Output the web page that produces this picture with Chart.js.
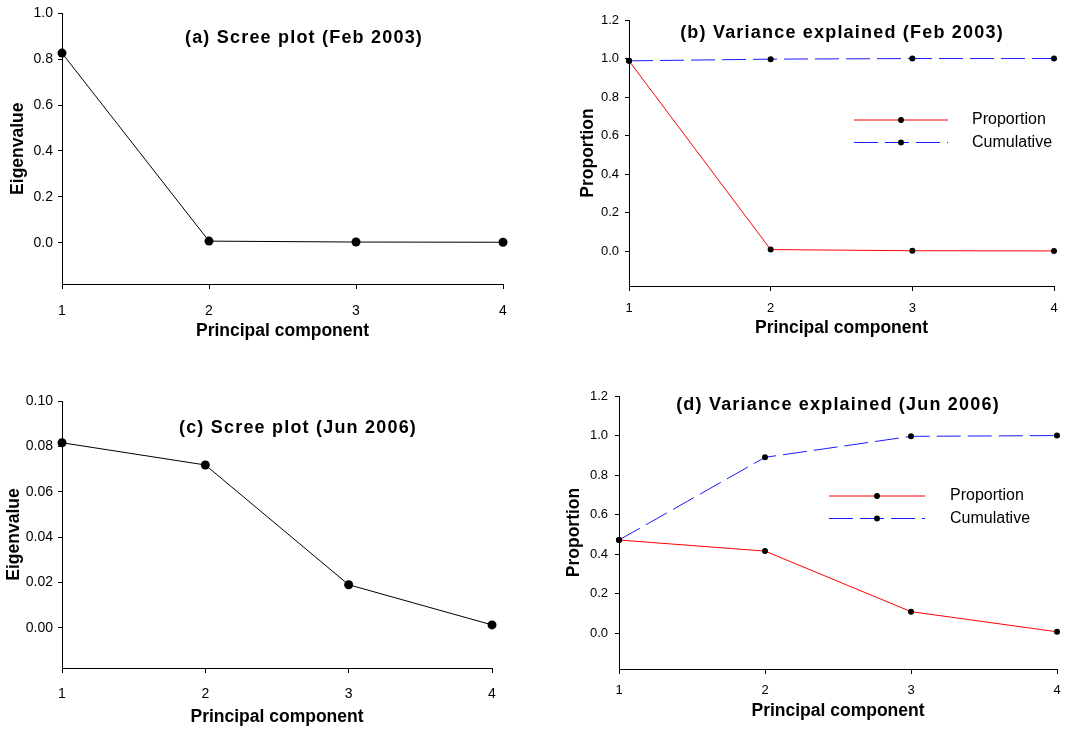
<!DOCTYPE html>
<html>
<head>
<meta charset="utf-8">
<title>PCA scree plots</title>
<script src="https://cdn.jsdelivr.net/npm/chart.js@4.4.1/dist/chart.umd.min.js"></script>
<style>
  body { margin: 0; background: #fff; }
  #wrap { position: relative; width: 1081px; height: 730px; overflow: hidden; }
  canvas { position: absolute; }
</style>
</head>
<body>
<div id="wrap">
  <canvas id="chartA" width="540" height="350" style="left:0;top:0"></canvas>
  <canvas id="chartB" width="541" height="350" style="left:540px;top:0"></canvas>
  <canvas id="chartC" width="540" height="365" style="left:0;top:365px"></canvas>
  <canvas id="chartD" width="541" height="365" style="left:540px;top:365px"></canvas>
</div>
<script>
const components = [1, 2, 3, 4];

// Feb 2003
const eigenFeb03 = [0.827, 0.007, 0.003, 0.002];
const propFeb03 = [0.988, 0.009, 0.003, 0.002];
const cumFeb03 = [0.988, 0.997, 1.0, 1.0];

// Jun 2006
const eigenJun06 = [0.0816, 0.0718, 0.0190, 0.0013];
const propJun06 = [0.472, 0.416, 0.110, 0.008];
const cumJun06 = [0.472, 0.890, 0.996, 1.0];

const eigenTicksFeb = [0, 0.2, 0.4, 0.6, 0.8, 1.0];
const eigenTicksJun = [0, 0.02, 0.04, 0.06, 0.08, 0.10];
const propTicks = [0, 0.2, 0.4, 0.6, 0.8, 1.0, 1.2];

const FONT = '"Liberation Sans", Arial, Helvetica, sans-serif';

// titles and the little line+dot legend are drawn straight onto the canvas
const panelText = {
  id: 'panelText',
  afterDraw(chart, args, opts) {
    const ctx = chart.ctx;
    ctx.save();
    ctx.fillStyle = '#000';
    ctx.textBaseline = 'middle';
    if (opts.title) {
      ctx.font = 'bold 18px ' + FONT;
      ctx.letterSpacing = '1.2px';
      ctx.textAlign = 'center';
      ctx.fillText(opts.title, opts.titleX, opts.titleY);
      ctx.letterSpacing = '0px';
    }
    if (opts.legend) {
      const lg = opts.legend;
      chart.data.datasets.forEach((ds, i) => {
        const y = lg.y + i * lg.gap;
        ctx.strokeStyle = ds.borderColor;
        ctx.lineWidth = ds.borderWidth;
        ctx.setLineDash(ds.borderDash || []);
        ctx.beginPath();
        ctx.moveTo(lg.x, y);
        ctx.lineTo(lg.x + lg.len, y);
        ctx.stroke();
        ctx.setLineDash([]);
        ctx.beginPath();
        ctx.arc(lg.x + lg.len / 2, y, ds.pointRadius, 0, Math.PI * 2);
        ctx.fillStyle = '#000';
        ctx.fill();
        ctx.font = '16px ' + FONT;
        ctx.textAlign = 'left';
        ctx.fillText(ds.label, lg.textX, y);
      });
    }
    ctx.restore();
  }
};

function makePanel(id, p) {
  return new Chart(document.getElementById(id), {
    type: 'line',
    data: {
      datasets: p.series.map(s => ({
        label: s.label,
        data: components.map((c, i) => ({ x: c, y: s.values[i] })),
        borderColor: s.color,
        borderWidth: 1,
        borderDash: s.dash || [],
        pointRadius: p.dotRadius,
        pointBackgroundColor: '#000',
        pointBorderWidth: 0,
        tension: 0,
        fill: false,
        clip: false
      }))
    },
    options: {
      responsive: false,
      animation: false,
      devicePixelRatio: 1,
      layout: { padding: { top: p.padTop, right: p.padRight, bottom: 0, left: 0 } },
      plugins: {
        legend: { display: false },
        tooltip: { enabled: false },
        panelText: { title: p.title, titleX: p.titleX, titleY: p.titleY, legend: p.legend }
      },
      scales: {
        x: {
          type: 'linear',
          min: 1,
          max: 4,
          afterBuildTicks: s => { s.ticks = components.map(v => ({ value: v })); },
          afterFit: s => { s.height = p.xHeight; },
          border: { color: '#000', width: 1 },
          grid: { drawOnChartArea: false, tickLength: 5, color: '#000' },
          ticks: { color: '#000', padding: p.xPad, font: { family: FONT, size: p.tickSize }, callback: v => String(v) },
          title: { display: true, text: 'Principal component', color: '#000',
                   font: { family: FONT, size: 17.5, weight: 'bold' }, padding: { top: 0, bottom: p.xTitlePad } }
        },
        y: {
          type: 'linear',
          min: p.yMin,
          max: p.yMax,
          afterBuildTicks: s => { s.ticks = p.yTicks.map(v => ({ value: v })); },
          afterFit: s => { s.width = p.yWidth; },
          border: { color: '#000', width: 1 },
          grid: { drawOnChartArea: false, tickLength: 4, color: '#000' },
          ticks: { color: '#000', padding: p.yPad, font: { family: FONT, size: p.tickSize },
                   callback: v => v.toFixed(p.decimals) },
          title: { display: true, text: p.yTitle, color: '#000',
                   font: { family: FONT, size: 17.5, weight: 'bold' }, padding: { top: p.yTitlePad, bottom: 0 } }
        }
      }
    },
    plugins: [panelText]
  });
}

makePanel('chartA', {
  title: '(a) Scree plot (Feb 2003)', titleX: 304, titleY: 38,
  series: [{ label: 'Eigenvalue', values: eigenFeb03, color: '#000' }],
  dotRadius: 4.5,
  yTitle: 'Eigenvalue', yMin: -0.18, yMax: 1.0, yTicks: eigenTicksFeb, decimals: 1,
  padTop: 11, padRight: 37, yWidth: 62, xHeight: 66,
  tickSize: 14, xPad: 14, yPad: 5, xTitlePad: 8, yTitlePad: 8
});

makePanel('chartB', {
  title: '(b) Variance explained (Feb 2003)', titleX: 302, titleY: 33,
  series: [
    { label: 'Proportion', values: propFeb03, color: '#ff0000' },
    { label: 'Cumulative', values: cumFeb03, color: '#1a1aff', dash: [24, 7] }
  ],
  dotRadius: 3,
  legend: { x: 314, len: 94, y: 120, gap: 22.5, textX: 432 },
  yTitle: 'Proportion', yMin: -0.18, yMax: 1.2, yTicks: propTicks, decimals: 1,
  padTop: 20, padRight: 27, yWidth: 89, xHeight: 64,
  tickSize: 13, xPad: 10, yPad: 6, xTitlePad: 11, yTitlePad: 38
});

makePanel('chartC', {
  title: '(c) Scree plot (Jun 2006)', titleX: 298, titleY: 63,
  series: [{ label: 'Eigenvalue', values: eigenJun06, color: '#000' }],
  dotRadius: 4.5,
  yTitle: 'Eigenvalue', yMin: -0.0177, yMax: 0.10, yTicks: eigenTicksJun, decimals: 2,
  padTop: 36, padRight: 48, yWidth: 62, xHeight: 62,
  tickSize: 14, xPad: 13, yPad: 5, xTitlePad: 2, yTitlePad: 4
});

makePanel('chartD', {
  title: '(d) Variance explained (Jun 2006)', titleX: 298, titleY: 40,
  series: [
    { label: 'Proportion', values: propJun06, color: '#ff0000' },
    { label: 'Cumulative', values: cumJun06, color: '#1a1aff', dash: [24, 7] }
  ],
  dotRadius: 3,
  legend: { x: 289, len: 96, y: 131, gap: 22.5, textX: 410 },
  yTitle: 'Proportion', yMin: -0.18, yMax: 1.2, yTicks: propTicks, decimals: 1,
  padTop: 31, padRight: 24, yWidth: 79, xHeight: 61,
  tickSize: 13, xPad: 9, yPad: 7, xTitlePad: 8, yTitlePad: 24
});
</script>
</body>
</html>
